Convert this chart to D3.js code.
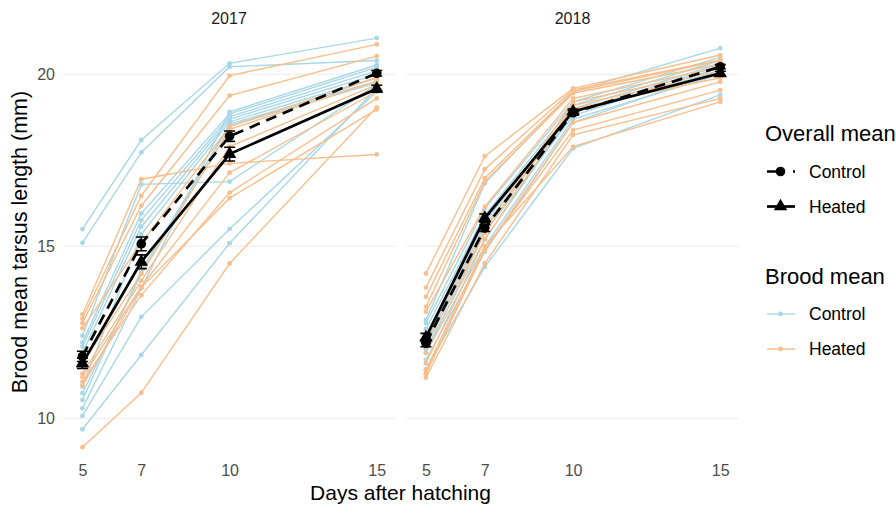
<!DOCTYPE html>
<html>
<head>
<meta charset="utf-8">
<script src="https://cdn.jsdelivr.net/npm/d3@7"></script>
<style>
  html, body { margin: 0; padding: 0; background: #fff; }
  svg { display: block; font-family: "Liberation Sans", Arial, sans-serif; }
</style>
</head>
<body>
<div id="chart"></div>
<script>
'use strict';

// ─── Data ───────────────────────────────────────────────────────────────────
const days = [5, 7, 10, 15];
const years = ['2017', '2018'];
const yTicks = [10, 15, 20];

// brood means, one row per brood, values at days 5/7/10/15
const brood2017Control = [
    [15.50, 18.09, 20.32, 21.05],
    [15.10, 17.73, 20.22, 20.40],
    [12.40, 16.80, 16.88, 19.70],
    [12.20, 15.96, 18.85, 20.20],
    [12.08, 15.76, 18.77, 20.10],
    [11.90, 15.57, 18.70, 20.00],
    [10.92, 15.35, 18.62, 19.90],
    [10.73, 14.20, 18.55, 19.80],
    [10.53, 14.30, 18.50, 19.75],
    [10.29, 13.78, 18.91, 20.27],
    [10.07, 12.95, 15.50, 19.50],
    [9.68, 11.84, 15.09, 19.60]
];
const brood2017Heated = [
    [12.90, 16.47, 19.96, 20.87],
    [12.77, 16.18, 19.38, 20.53],
    [13.02, 16.95, 17.41, 17.67],
    [12.62, 15.10, 18.48, 19.90],
    [11.60, 14.20, 18.40, 19.80],
    [11.30, 14.00, 17.90, 19.70],
    [11.20, 13.83, 17.14, 19.50],
    [11.06, 13.58, 16.56, 19.30],
    [10.95, 13.80, 16.40, 18.98],
    [9.16, 10.74, 14.50, 19.04]
];
const brood2018Control = [
    [12.86, 16.83, 19.50, 20.76],
    [12.77, 16.10, 19.20, 20.50],
    [12.60, 15.90, 19.10, 20.40],
    [12.40, 15.70, 19.00, 20.30],
    [12.30, 15.60, 18.90, 20.25],
    [12.10, 15.40, 18.80, 20.20],
    [12.00, 15.20, 18.90, 20.10],
    [11.90, 15.00, 18.70, 20.00],
    [11.70, 14.84, 18.60, 20.10],
    [11.42, 14.40, 17.85, 19.40]
];
const brood2018Heated = [
    [14.21, 17.62, 19.59, 20.56],
    [13.80, 17.24, 19.55, 20.42],
    [13.53, 16.98, 19.50, 20.40],
    [13.24, 16.88, 19.45, 20.30],
    [13.10, 16.15, 19.30, 20.20],
    [12.20, 15.50, 19.20, 20.10],
    [11.90, 15.40, 19.10, 20.00],
    [11.60, 15.20, 19.00, 19.90],
    [11.30, 14.90, 18.60, 19.78],
    [11.30, 14.90, 18.38, 19.54],
    [11.18, 14.50, 18.24, 19.30],
    [11.40, 15.00, 17.90, 19.20]
];

// overall means and standard errors
const mean2017Control = [11.80, 15.07, 18.20, 20.03];
const se2017Control   = [0.15, 0.20, 0.15, 0.08];
const mean2017Heated  = [11.60, 14.55, 17.68, 19.58];
const se2017Heated    = [0.15, 0.20, 0.20, 0.10];
const mean2018Control = [12.18, 15.53, 18.88, 20.22];
const se2018Control   = [0.10, 0.10, 0.07, 0.06];
const mean2018Heated  = [12.35, 15.82, 18.92, 20.03];
const se2018Heated    = [0.12, 0.12, 0.07, 0.06];

const broods = {
    '2017': [{ group: 'Control', rows: brood2017Control }, { group: 'Heated', rows: brood2017Heated }],
    '2018': [{ group: 'Control', rows: brood2018Control }, { group: 'Heated', rows: brood2018Heated }]
};
const means = {
    '2017': [{ group: 'Heated', mean: mean2017Heated, se: se2017Heated },
             { group: 'Control', mean: mean2017Control, se: se2017Control }],
    '2018': [{ group: 'Heated', mean: mean2018Heated, se: se2018Heated },
             { group: 'Control', mean: mean2018Control, se: se2018Control }]
};

const broodColor = { Control: '#a8d7e7', Heated: '#f8be8c' };

// ─── Layout ─────────────────────────────────────────────────────────────────
const W = 896, H = 507;
const panels = [{ x0: 63, x1: 395 }, { x0: 406.5, x1: 738.5 }];
const FONT = '"Liberation Sans", Arial, sans-serif';

const svg = d3.select('#chart').append('svg')
    .attr('width', W).attr('height', H)
    .attr('viewBox', '0 0 ' + W + ' ' + H);

const y = d3.scaleLinear().domain([10, 20]).range([418.3, 74.3]);

const circleMean = d3.symbol().type(d3.symbolCircle).size(72);
const triangle   = d3.symbol().type(d3.symbolTriangle).size(78);

years.forEach(function (yr, i) {
    const p = panels[i];
    const x = d3.scaleLinear().domain([4.34, 15.62]).range([p.x0, p.x1]);
    const g = svg.append('g');

    // grid
    g.selectAll('.grid').data(yTicks).enter().append('line')
        .attr('x1', p.x0).attr('x2', p.x1)
        .attr('y1', function (d) { return y(d); })
        .attr('y2', function (d) { return y(d); })
        .attr('stroke', '#ebebeb').attr('stroke-width', 1.1);

    // strip label
    g.append('text')
        .attr('x', (p.x0 + p.x1) / 2).attr('y', 24)
        .attr('text-anchor', 'middle')
        .attr('font-size', 16).attr('fill', '#1a1a1a')
        .text(yr);

    // x axis labels
    const xAxis = d3.axisBottom(x).tickValues(days).tickSize(0).tickPadding(0);
    const ax = g.append('g').attr('transform', 'translate(0,465)').call(xAxis);
    ax.select('.domain').remove();
    ax.selectAll('text').attr('font-size', 16).attr('fill', '#4d4d4d')
        .attr('font-family', FONT)
        .attr('dy', '0.71em');

    const line = d3.line()
        .x(function (d, k) { return x(days[k]); })
        .y(function (d) { return y(d); });

    // brood lines + points
    broods[yr].forEach(function (b) {
        b.rows.forEach(function (row) {
            g.append('path').datum(row)
                .attr('d', line)
                .attr('fill', 'none')
                .attr('stroke', broodColor[b.group])
                .attr('stroke-width', 1.4);
            g.selectAll(null).data(row).enter().append('circle')
                .attr('cx', function (d, k) { return x(days[k]); })
                .attr('cy', function (d) { return y(d); })
                .attr('r', 2.4)
                .attr('fill', broodColor[b.group]);
        });
    });

    // overall means
    means[yr].forEach(function (m) {
        g.append('path').datum(m.mean)
            .attr('d', line)
            .attr('fill', 'none')
            .attr('stroke', '#000')
            .attr('stroke-width', 2.7)
            .attr('stroke-dasharray', m.group === 'Control' ? '11,7' : null);

        m.mean.forEach(function (v, k) {
            const cx = x(days[k]);
            const lo = y(v - m.se[k]), hi = y(v + m.se[k]);
            g.append('path')
                .attr('d', 'M' + (cx - 5.5) + ',' + hi + 'H' + (cx + 5.5) +
                           'M' + cx + ',' + hi + 'V' + lo +
                           'M' + (cx - 5.5) + ',' + lo + 'H' + (cx + 5.5))
                .attr('stroke', '#000').attr('stroke-width', 1.6).attr('fill', 'none');
        });

        g.selectAll(null).data(m.mean).enter().append('path')
            .attr('transform', function (d, k) { return 'translate(' + x(days[k]) + ',' + y(d) + ')'; })
            .attr('d', m.group === 'Control' ? circleMean() : triangle())
            .attr('fill', '#000');
    });
});

// y axis labels
const yAxis = d3.axisLeft(y).tickValues(yTicks).tickSize(0).tickPadding(0);
const ay = svg.append('g').attr('transform', 'translate(55,0)').call(yAxis);
ay.select('.domain').remove();
ay.selectAll('text').attr('font-size', 16).attr('fill', '#4d4d4d')
    .attr('font-family', FONT);

// axis titles
svg.append('text')
    .attr('x', 400.5).attr('y', 500)
    .attr('text-anchor', 'middle')
    .attr('font-size', 21).attr('fill', '#000')
    .text('Days after hatching');
svg.append('text')
    .attr('transform', 'translate(27,242) rotate(-90)')
    .attr('text-anchor', 'middle')
    .attr('font-size', 21.5).attr('fill', '#000')
    .text('Brood mean tarsus length (mm)');

// ─── Legend ─────────────────────────────────────────────────────────────────
const leg = svg.append('g');
const lx0 = 767, lx1 = 795, lxm = 780.5, tx = 809;

leg.append('text').attr('x', 765).attr('y', 141)
    .attr('font-size', 22).attr('fill', '#000').text('Overall mean');
leg.append('text').attr('x', 765).attr('y', 284)
    .attr('font-size', 22).attr('fill', '#000').text('Brood mean');

const legItems = [
    { y: 171.5, label: 'Control', kind: 'meanC' },
    { y: 206.5, label: 'Heated', kind: 'meanH' },
    { y: 314, label: 'Control', kind: 'broodC' },
    { y: 349, label: 'Heated', kind: 'broodH' }
];
legItems.forEach(function (it) {
    const isMean = it.kind.indexOf('mean') === 0;
    const col = isMean ? '#000' : broodColor[it.kind === 'broodC' ? 'Control' : 'Heated'];
    leg.append('line')
        .attr('x1', lx0).attr('x2', lx1).attr('y1', it.y).attr('y2', it.y)
        .attr('stroke', col)
        .attr('stroke-width', isMean ? 2.7 : 1.4)
        .attr('stroke-dasharray', it.kind === 'meanC' ? '18,8' : null);
    let sym;
    if (it.kind === 'meanC') sym = circleMean();
    else if (it.kind === 'meanH') sym = triangle();
    else sym = d3.symbol().type(d3.symbolCircle).size(18)();
    leg.append('path')
        .attr('transform', 'translate(' + lxm + ',' + it.y + ')')
        .attr('d', sym).attr('fill', col);
    leg.append('text').attr('x', tx).attr('y', it.y).attr('dy', '0.35em')
        .attr('font-size', 17.5).attr('fill', '#000').text(it.label);
});
</script>
</body>
</html>
